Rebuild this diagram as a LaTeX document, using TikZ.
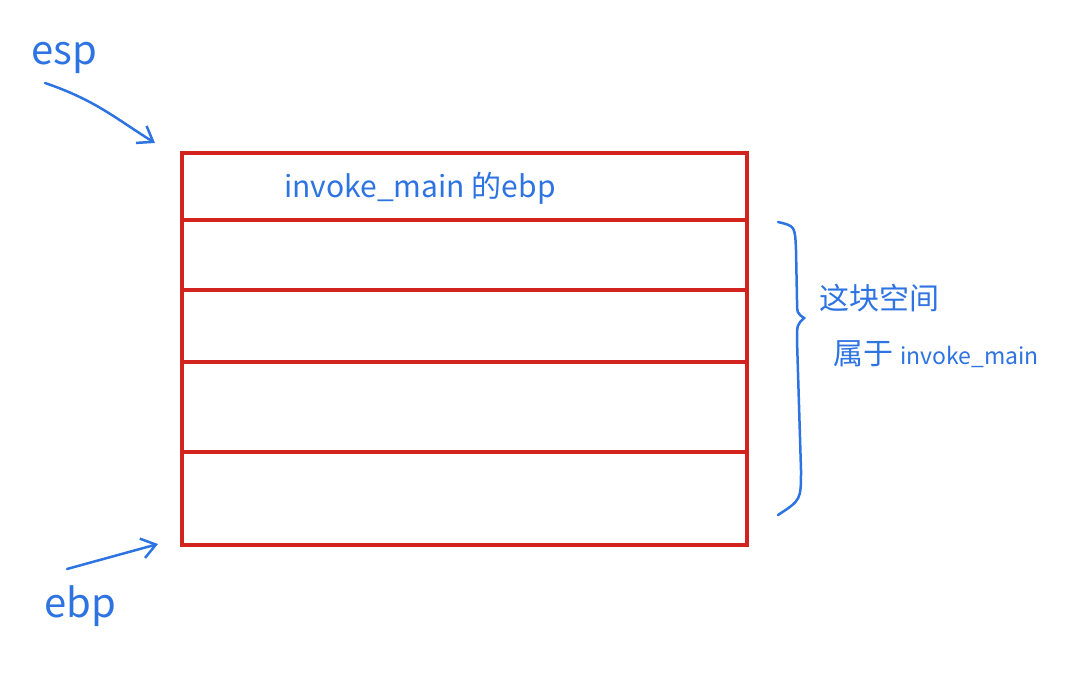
\documentclass[tikz,border=0pt]{standalone}
\usepackage{fontspec}
\setmainfont{Noto Sans CJK SC}
\usetikzlibrary{arrows.meta}
\definecolor{pen}{RGB}{45,115,225}
\definecolor{stackred}{RGB}{210,35,30}

\begin{document}
\begin{tikzpicture}[x=1pt,y=-1pt,
	cell/.style={
		% one slot of the stack
		draw=stackred,
		line width=4pt,
		minimum width=565pt,
		anchor=north west,
		inner sep=0pt,
		outer sep=0pt
		},
	note/.style={text=pen, font=\fontsize{30}{34}\selectfont},
	reg/.style={text=pen, font=\fontsize{40}{44}\selectfont},
	pointer/.style={draw=pen, line width=2.5pt, line cap=round,
		-{Straight Barb[length=14pt,width=20pt]}}]

	\useasboundingbox (0,0) rectangle (1080,683);

	\node (slot0) [cell,minimum height=67pt] at (182,153) {};
	\node (slot1) [cell,minimum height=70pt] at (slot0.south west) {};
	\node (slot2) [cell,minimum height=72pt] at (slot1.south west) {};
	\node (slot3) [cell,minimum height=90pt] at (slot2.south west) {};
	\node (slot4) [cell,minimum height=93pt] at (slot3.south west) {};

	\node (savedebp) [note] at (420,188) {invoke\_main 的ebp};

	\node (esp) [reg] at (64,58) {esp};
	\node (ebp) [reg] at (80,606) {ebp};
	\coordinate (esptail) at (45,83);
	\coordinate (ebptail) at (67,569);

	\draw[pointer] (esptail) .. controls (95,100) and (115,118) .. (155,143);
	\draw[pointer] (ebptail) -- (158,544);

	% brace over the frame of invoke_main
	\coordinate (bracetop) at (778,222);
	\coordinate (bracetip) at (804,318);
	\coordinate (bracebot) at (778,515);
	\draw[pen, line width=2.5pt, line cap=round]
		(bracetop) .. controls (795,226) .. (796,250) -- (797,300)
		.. controls (797,313) .. (bracetip)
		.. controls (797,325) .. (797,340) -- (801,470)
		.. controls (801,500) .. (bracebot);

	\node (owner1) [note,anchor=west] at (816,298) {这块空间};
	\node (owner2) [note,anchor=west] at (830,354) {属于 {\fontsize{23}{26}\selectfont invoke\_main}};

\end{tikzpicture}
\end{document}
